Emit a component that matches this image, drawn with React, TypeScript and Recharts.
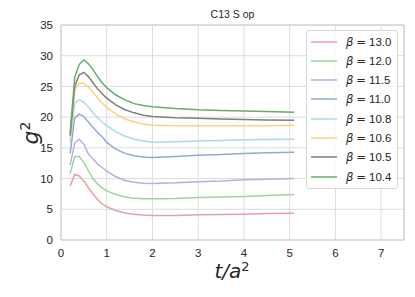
import React from "react";
import {
  LineChart,
  Line,
  XAxis,
  YAxis,
  CartesianGrid,
  ReferenceArea,
} from "recharts";

// flow time t/a^2
const tValues = [0.2, 0.3, 0.4, 0.5, 0.6, 0.7, 0.8, 0.9, 1.0, 1.2, 1.4, 1.6, 1.8, 2.0, 2.5, 3.0, 3.5, 4.0, 4.5, 5.1];

// g^2 per beta
const g2Beta130 = [8.8, 10.7, 10.4, 9.6, 8.5, 7.5, 6.6, 5.9, 5.4, 4.8, 4.4, 4.2, 4.05, 4.0, 4.0, 4.1, 4.15, 4.2, 4.3, 4.35];
const g2Beta120 = [10.8, 13.6, 13.6, 12.6, 11.3, 10.0, 9.1, 8.5, 8.0, 7.4, 7.0, 6.8, 6.7, 6.7, 6.75, 6.9, 7.0, 7.1, 7.25, 7.4];
const g2Beta115 = [12.2, 15.8, 16.4, 15.6, 14.0, 13.2, 12.4, 11.8, 11.2, 10.3, 9.7, 9.4, 9.25, 9.2, 9.3, 9.5, 9.6, 9.8, 9.9, 10.0];
const g2Beta110 = [14.1, 19.9, 20.5, 20.1, 19.2, 18.3, 17.5, 16.8, 15.9, 14.8, 14.1, 13.7, 13.5, 13.45, 13.6, 13.8, 13.9, 14.1, 14.2, 14.3];
const g2Beta108 = [15.8, 22.3, 22.8, 22.4, 21.6, 20.7, 19.9, 19.2, 18.6, 17.6, 16.9, 16.4, 16.1, 15.9, 16.0, 16.1, 16.2, 16.3, 16.35, 16.4];
const g2Beta106 = [16.3, 24.5, 25.5, 25.5, 24.9, 24.0, 23.1, 22.3, 21.6, 20.5, 19.7, 19.2, 18.9, 18.7, 18.6, 18.6, 18.6, 18.6, 18.6, 18.7];
const g2Beta105 = [17.0, 25.0, 26.9, 27.3, 26.6, 25.6, 24.6, 23.8, 23.1, 22.0, 21.2, 20.7, 20.3, 20.1, 19.9, 19.8, 19.7, 19.6, 19.55, 19.5];
const g2Beta104 = [17.4, 26.5, 28.6, 29.3, 28.7, 27.7, 26.6, 25.6, 24.8, 23.6, 22.8, 22.2, 21.9, 21.7, 21.4, 21.2, 21.1, 21.0, 20.9, 20.8];

const betaLabels = ["13.0", "12.0", "11.5", "11.0", "10.8", "10.6", "10.5", "10.4"];
const seriesValues = [g2Beta130, g2Beta120, g2Beta115, g2Beta110, g2Beta108, g2Beta106, g2Beta105, g2Beta104];
const seriesColors = ["#e4a0a2", "#9dd49f", "#b5b2e0", "#93a9d9", "#a9dbe9", "#fdd17e", "#7f7f7f", "#6aab6a"];

const xTicks = [0, 1, 2, 3, 4, 5, 6, 7];
const yTicks = [0, 5, 10, 15, 20, 25, 30, 35];

const data = tValues.map((t, i) => {
  const row: Record<string, number> = { t };
  betaLabels.forEach((b, k) => {
    row["b" + b] = seriesValues[k][i];
  });
  return row;
});

const tickStyle = { fontSize: 11.5, fill: "#262626", fontFamily: "Liberation Sans, Arial, sans-serif" };

const App: React.FC = () => {
  return (
    <div style={{ position: "absolute", left: 0, top: 0, width: 415, height: 297, background: "#fff" }}>
      <LineChart width={415} height={297} data={data} margin={{ top: 25, right: 11, bottom: 0, left: 0 }}>
        <CartesianGrid stroke="#dcdcdc" strokeWidth={1} />
        <XAxis
          dataKey="t"
          type="number"
          domain={[0, 7.5]}
          ticks={xTicks}
          tickLine={false}
          axisLine={false}
          tickSize={0}
          tickMargin={9}
          height={57}
          tick={tickStyle}
        />
        <YAxis
          type="number"
          domain={[0, 35]}
          ticks={yTicks}
          tickLine={false}
          axisLine={false}
          tickSize={0}
          tickMargin={8}
          width={61}
          tick={tickStyle}
        />
        <ReferenceArea x1={0} x2={7.5} y1={0} y2={35} fill="none" stroke="#cccccc" strokeWidth={1} ifOverflow="visible" />
        {betaLabels.map((b, k) => (
          <Line
            key={b}
            dataKey={"b" + b}
            type="linear"
            stroke={seriesColors[k]}
            strokeWidth={1.5}
            dot={false}
            isAnimationActive={false}
          />
        ))}
      </LineChart>

      {/* title */}
      <div
        style={{
          position: "absolute",
          left: 61,
          width: 343,
          top: 8,
          textAlign: "center",
          fontSize: 10.5,
          fontFamily: "Liberation Sans, Arial, sans-serif",
          color: "#262626",
        }}
      >
        C13 S op
      </div>

      {/* y label */}
      <div
        style={{
          position: "absolute",
          left: 30,
          top: 133,
          transform: "translate(-50%, -50%) rotate(-90deg)",
          fontSize: 22,
          fontStyle: "italic",
          fontFamily: "DejaVu Sans, sans-serif",
          color: "#262626",
          whiteSpace: "nowrap",
        }}
      >
        g<sup style={{ fontSize: 14, fontStyle: "normal" }}>2</sup>
      </div>

      {/* x label */}
      <div
        style={{
          position: "absolute",
          left: 232,
          top: 271,
          transform: "translate(-50%, -50%)",
          fontSize: 20,
          fontStyle: "italic",
          fontFamily: "DejaVu Sans, sans-serif",
          color: "#262626",
          whiteSpace: "nowrap",
        }}
      >
        t/a<sup style={{ fontSize: 13, fontStyle: "normal" }}>2</sup>
      </div>

      {/* legend */}
      <div
        style={{
          position: "absolute",
          left: 306,
          top: 30,
          width: 92,
          height: 159,
          boxSizing: "border-box",
          border: "1px solid #d8d8d8",
          borderRadius: 3,
          background: "rgba(255,255,255,0.85)",
        }}
      >
        {betaLabels.map((b, k) => (
          <div
            key={b}
            style={{
              position: "absolute",
              left: 0,
              top: 1 + k * 19.3,
              height: 19,
              display: "flex",
              alignItems: "center",
              fontSize: 11.5,
              fontFamily: "Liberation Sans, Arial, sans-serif",
              color: "#262626",
              whiteSpace: "nowrap",
            }}
          >
            <svg width={26} height={4} style={{ marginLeft: 4, marginRight: 9 }}>
              <line x1={0} y1={2} x2={26} y2={2} stroke={seriesColors[k]} strokeWidth={1.5} />
            </svg>
            <span style={{ fontFamily: "DejaVu Sans, sans-serif", fontStyle: "italic" }}>β</span>
            <span style={{ fontFamily: "DejaVu Sans, sans-serif", margin: "0 3px" }}>=</span>
            <span>{b}</span>
          </div>
        ))}
      </div>
    </div>
  );
};

export default App;
